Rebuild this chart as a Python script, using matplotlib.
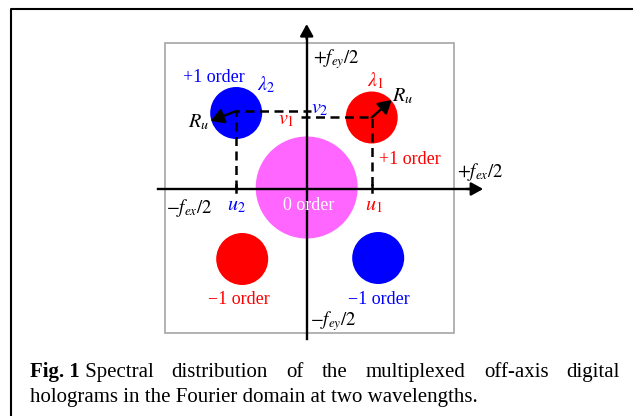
import matplotlib
matplotlib.use("Agg")
import matplotlib.pyplot as plt
from matplotlib.patches import Circle, Rectangle

plt.rcParams['font.family'] = ['Liberation Serif', 'DejaVu Serif']
plt.rcParams['mathtext.fontset'] = 'stix'

# Spectral orders in the Fourier plane (origin = centre of the spectrum)
order_names = ['0 order', '+1 order', '+1 order', '\u22121 order', '\u22121 order']
order_x = [0, 65, -70.5, -64.5, 71.5]
order_y = [1.5, 71.5, 76, -70, -69]
order_r = [51, 26, 26, 26, 26]
order_colors = ['#FF66FF', '#FF0000', '#0000FF', '#FF0000', '#0000FF']

# carrier frequencies of the two wavelengths
u1, v1 = 65, 71.5
u2, v2 = -70.5, 78
# radius vectors R_u (end points)
ru_x = [85, -96]
ru_y = [89, 68]

# half bandwidth box (+-fex/2, +-fey/2)
box_x = [-142, 147]
box_y = [-144, 146]

caption1 = ['distribution', 'of', 'the', 'multiplexed', 'off-axis', 'digital']
caption2 = 'holograms in the Fourier domain at two wavelengths.'

fig = plt.figure(figsize=(6.33, 4.16), dpi=100)
ax = fig.add_axes([0, 0, 1, 1])
ax.set_xlim(-306.7, 326.3)
ax.set_ylim(-227, 189)
ax.axis('off')

# outer frame
ax.plot([-295.5, -295.5, 330], [-230, 180, 180], color='k', lw=1.5, clip_on=False)

# grey box
ax.add_patch(Rectangle((box_x[0], box_y[0]), box_x[1] - box_x[0], box_y[1] - box_y[0],
                       fill=False, ec='#A6A6A6', lw=1.2))

# spots
for x, y, r, c in zip(order_x, order_y, order_r, order_colors):
    ax.add_patch(Circle((x, y), r, color=c, lw=0, zorder=2))

# axes with arrows
alw = 1.7
ax.plot([0, 0], [-150, 160], color='k', lw=alw, zorder=3)
ax.annotate('', xy=(0, 165), xytext=(0, 150),
            arrowprops=dict(arrowstyle='-|>,head_length=0.6,head_width=0.33', color='k',
                            lw=alw, mutation_scale=12, shrinkA=0, shrinkB=0), zorder=3)
ax.plot([-148.7, 170], [0, 0], color='k', lw=alw, zorder=3)
ax.annotate('', xy=(176.5, 0), xytext=(160, 0),
            arrowprops=dict(arrowstyle='-|>,head_length=0.6,head_width=0.33', color='k',
                            lw=alw, mutation_scale=12, shrinkA=0, shrinkB=0), zorder=3)

# dashed carrier lines
dash = (0, (3.6, 2.2))
ax.plot([u2, u2, 4], [0, v2, v2], color='k', lw=1.8, ls=dash, zorder=4)
ax.plot([-6, u1, u1], [v1, v1, 0], color='k', lw=1.8, ls=dash, zorder=4)
ax.plot([u1, u1], [-3, 4], color='k', lw=1.8, zorder=4)
ax.plot([u2, u2], [-3, 4], color='k', lw=1.8, zorder=4)

# R_u arrows
for cx, cy, ex, ey in [(u1, v1, ru_x[0], ru_y[0]), (u2, v2, ru_x[1], ru_y[1])]:
    ax.annotate('', xy=(ex, ey), xytext=(cx, cy),
                arrowprops=dict(arrowstyle='-|>,head_length=0.6,head_width=0.35', color='k',
                                lw=1.7, mutation_scale=13, shrinkA=0, shrinkB=0), zorder=5)

fs = 13
mfs = 14.5
ffs = 13.5
blue, red = '#0000FF', '#FF0000'
kw = dict(fontsize=fs, ha='center', va='center', zorder=6)
mkw = dict(fontsize=mfs, ha='center', va='center', zorder=6)
ax.text(-93.2, 111, order_names[2], color=blue, **kw)
ax.text(103.3, 29, order_names[1], color=red, **kw)
ax.text(2.3, -16.5, order_names[0], color='white', **kw)
ax.text(-67.7, -110, order_names[3], color=red, **kw)
ax.text(72.3, -110, order_names[4], color=blue, **kw)
ax.text(-40.7, 104, r'$\lambda_2$', color=blue, **mkw)
ax.text(69.3, 108, r'$\lambda_1$', color=red, **mkw)
ax.text(96, 93, r'$R_u$', color='k', **mkw)
ax.text(-107.7, 67, r'$R_u$', color='k', **mkw)
ax.text(13, 80, r'$v_2$', color=blue, **mkw)
ax.text(-20.7, 69, r'$v_1$', color=red, **mkw)
ax.text(-70.7, -17, r'$u_2$', color=blue, **mkw)
ax.text(66.8, -17, r'$u_1$', color=red, **mkw)
ax.text(-117.7, -19, r'$-f_{ex}/2$', color='k', fontsize=ffs, ha='center', va='center')
ax.text(6.3, 130, r'$+f_{ey}/2$', color='k', fontsize=ffs, ha='left', va='center')
ax.text(150.3, 17, r'$+f_{ex}/2$', color='k', fontsize=ffs, ha='left', va='center')
ax.text(3.3, -132, r'$-f_{ey}/2$', color='k', fontsize=ffs, ha='left', va='center')

# caption (justified first line)
cfs = 15.05
left, right = -276.7, 313.3
base1, base2 = -188, -213
renderer = fig.canvas.get_renderer()
t0 = ax.text(left, base1, 'Fig. 1', fontsize=cfs, fontweight='bold', va='baseline', ha='left')
w0 = t0.get_window_extent(renderer).width
t1 = ax.text(left + w0, base1, ' Spectral', fontsize=cfs, va='baseline', ha='left')
w1 = t1.get_window_extent(renderer).width
ws = []
for w in caption1:
    t = ax.text(0, base1, w, fontsize=cfs, va='baseline', ha='left')
    ws.append((t, t.get_window_extent(renderer).width))
gap = (right - (left + w0 + w1) - sum(w for _, w in ws)) / len(ws)
x = left + w0 + w1 + gap
for t, w in ws:
    t.set_x(x)
    x += w + gap
ax.text(left, base2, caption2, fontsize=cfs, va='baseline', ha='left')

fig.savefig('out.png', dpi=100)
